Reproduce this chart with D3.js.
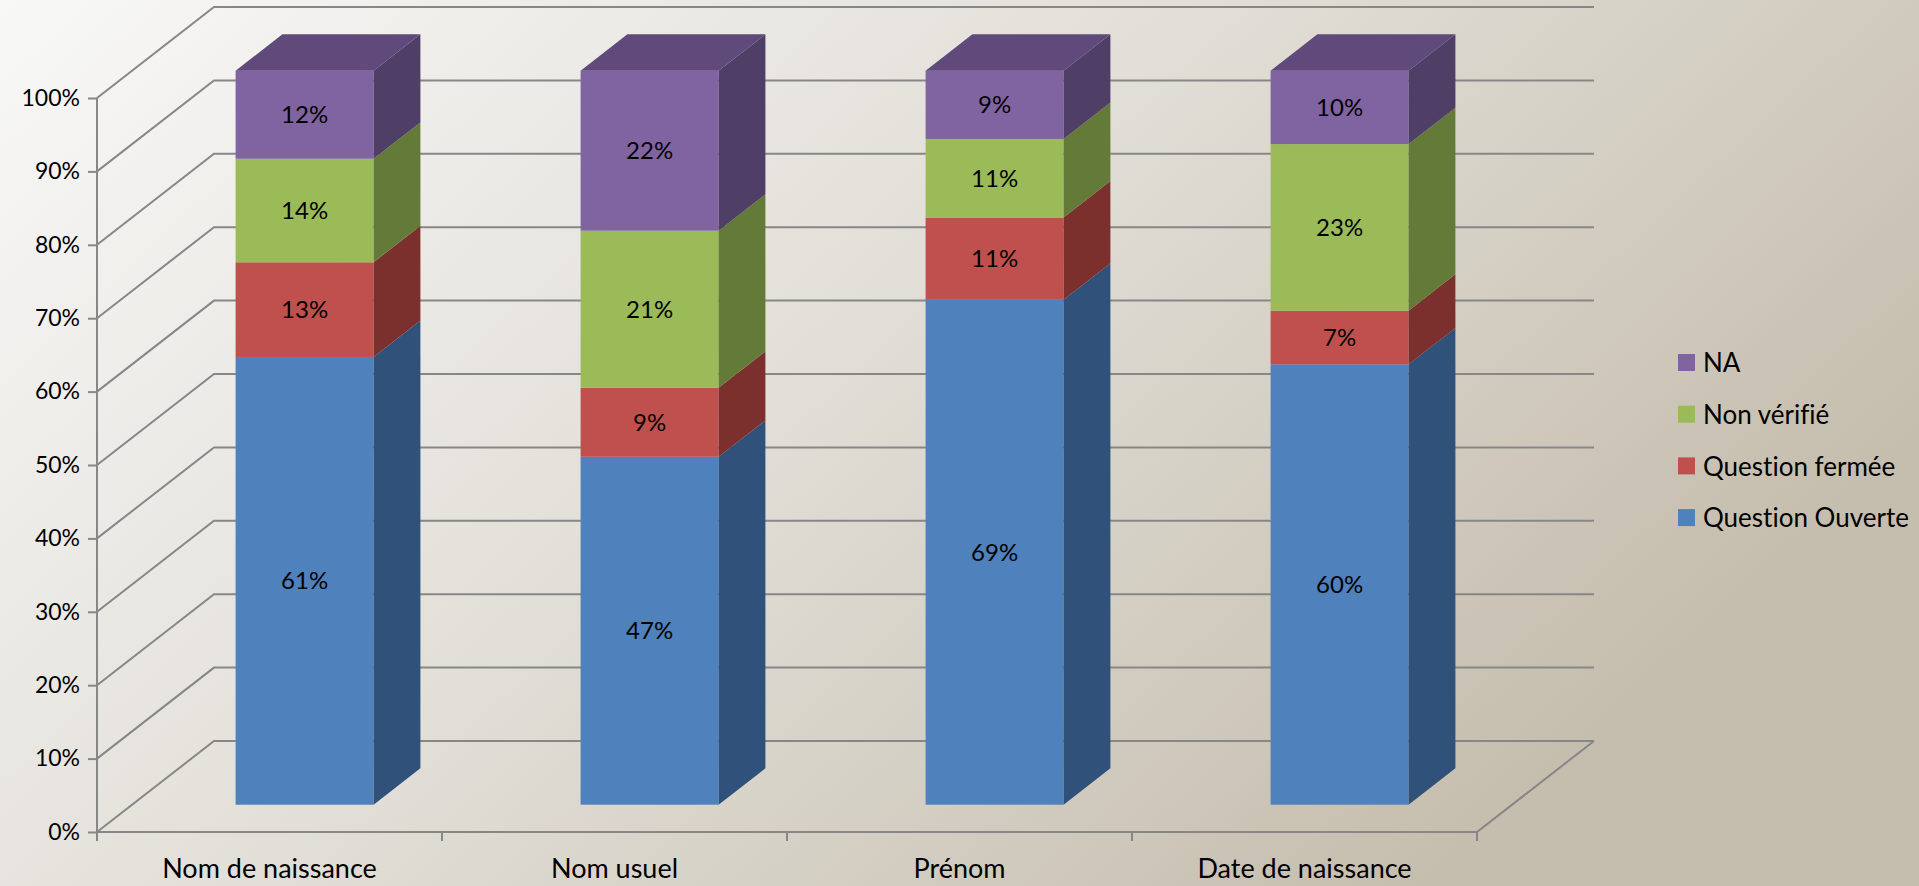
<!DOCTYPE html>
<html>
<head>
<meta charset="utf-8">
<script src="https://cdn.jsdelivr.net/npm/d3@7"></script>
<style>
  html, body { margin: 0; padding: 0; overflow: hidden; }
  text { font-family: Lato, "Open Sans", sans-serif; fill: #000; font-variant-ligatures: none; font-feature-settings: "liga" 0, "dlig" 0; }
</style>
</head>
<body>
<script>
'use strict';

// chart data
var categories = ["Nom de naissance", "Nom usuel", "Prénom", "Date de naissance"];
var seriesNames = ["Question Ouverte", "Question fermée", "Non vérifié", "NA"];
var questionOuverte = [61, 47.4, 68.8, 60];
var questionFermee  = [12.9, 9.4, 11.2, 7.3];
var nonVerifie      = [14.1, 21.4, 10.7, 22.7];
var na              = [12, 21.8, 9.3, 10];
var yTicks = [0, 10, 20, 30, 40, 50, 60, 70, 80, 90, 100];

var fronts = ["#4F81BD", "#C0504D", "#9BBB59", "#8064A2"];
var sides  = ["#30527A", "#7B302E", "#637A38", "#4F3E66"];
var tops   = ["#3B6497", "#963C3A", "#7A9446", "#5F4A7B"];

var width = 1919, height = 886;
var depthX = 117, depthY = 91;          // full floor depth offset
var barD0 = 0.3, barD1 = 0.7;            // bar front / back as fraction of depth

var rows = categories.map(function(c, i) {
    return { cat: c, "Question Ouverte": questionOuverte[i], "Question fermée": questionFermee[i],
             "Non vérifié": nonVerifie[i], "NA": na[i] };
});
var stacked = d3.stack().keys(seriesNames)(rows);

var svg = d3.select("body").append("svg")
    .attr("width", width)
    .attr("height", height);

var grad = svg.append("defs").append("linearGradient")
    .attr("id", "bg").attr("x1", 0).attr("y1", 0).attr("x2", 1).attr("y2", 0.5);
grad.append("stop").attr("offset", 0).attr("stop-color", "#F8F8F7");
grad.append("stop").attr("offset", 0.5).attr("stop-color", "#E2DFD8");
grad.append("stop").attr("offset", 1).attr("stop-color", "#C5BDAD");
svg.append("rect").attr("width", width).attr("height", height).attr("fill", "url(#bg)");

var x = d3.scaleBand().domain(categories).range([97, 1477]).paddingInner(0.6).paddingOuter(0.3);
var y = d3.scaleLinear().domain([0, 100]).range([832, 98]);

function px(xx, t) { return xx + t * depthX; }
function py(yy, t) { return yy - t * depthY; }

// walls and gridlines
var grid = svg.append("g").attr("stroke", "#878787").attr("stroke-width", 2).attr("fill", "none");
yTicks.forEach(function(v) {
    grid.append("path").attr("d",
        "M" + 97 + "," + y(v) + "L" + px(97, 1) + "," + py(y(v), 1) + "L" + px(1477, 1) + "," + py(y(v), 1));
});
grid.append("path").attr("d", "M97," + y(0) + "L1477," + y(0) + "L" + px(1477, 1) + "," + py(y(0), 1));

// y axis
var yAxis = svg.append("g").attr("transform", "translate(97,0)")
    .call(d3.axisLeft(y).tickValues(yTicks).tickSize(9).tickPadding(8).tickFormat(function(d) { return d + "%"; }));
yAxis.select(".domain").attr("stroke", "#878787").attr("stroke-width", 2).attr("d", "M0," + y(100) + "V" + y(0));
yAxis.selectAll(".tick line").attr("stroke", "#878787").attr("stroke-width", 2);
yAxis.selectAll(".tick text").attr("font-size", 23).attr("font-family", "Lato, sans-serif").attr("fill", "#000");

// x axis ticks and labels
var step = x.step();
var xAxis = svg.append("g");
d3.range(categories.length + 1).forEach(function(i) {
    xAxis.append("line").attr("x1", 97 + i * step).attr("x2", 97 + i * step)
        .attr("y1", y(0)).attr("y2", y(0) + 9).attr("stroke", "#878787").attr("stroke-width", 2);
});
xAxis.selectAll("text").data(categories).enter().append("text")
    .attr("x", function(d) { return x(d) + x.bandwidth() / 2; })
    .attr("y", 878)
    .attr("text-anchor", "middle")
    .attr("font-size", 27)
    .text(function(d) { return d; });

// bars
var bars = svg.append("g");
stacked.forEach(function(layer, si) {
    layer.forEach(function(seg, ci) {
        var x0 = px(x(categories[ci]), barD0), x1 = x0 + x.bandwidth();
        var yb = py(y(seg[0]), barD0), yt = py(y(seg[1]), barD0);
        var dd = barD1 - barD0, ox = dd * depthX, oy = dd * depthY;
        var g = bars.append("g");
        g.append("rect").attr("x", x0).attr("y", yt).attr("width", x1 - x0).attr("height", yb - yt)
            .attr("fill", fronts[si]);
        g.append("path").attr("fill", sides[si])
            .attr("d", "M" + x1 + "," + yt + "L" + (x1 + ox) + "," + (yt - oy) + "L" + (x1 + ox) + "," + (yb - oy) + "L" + x1 + "," + yb + "Z");
        if (si === stacked.length - 1) {
            g.append("path").attr("fill", tops[si])
                .attr("d", "M" + x0 + "," + yt + "L" + (x0 + ox) + "," + (yt - oy) + "L" + (x1 + ox) + "," + (yt - oy) + "L" + x1 + "," + yt + "Z");
        }
        g.append("text")
            .attr("x", (x0 + x1) / 2)
            .attr("y", (yt + yb) / 2)
            .attr("dy", "0.36em")
            .attr("text-anchor", "middle")
            .attr("font-size", 24)
            .text(Math.round(seg[1] - seg[0]) + "%");
    });
});

// legend
var legend = svg.append("g").attr("transform", "translate(1678,354)");
seriesNames.slice().reverse().forEach(function(name, i) {
    var si = seriesNames.indexOf(name);
    var row = legend.append("g").attr("transform", "translate(0," + (i * 51.7) + ")");
    row.append("rect").attr("width", 17).attr("height", 17).attr("fill", fronts[si]);
    row.append("text").attr("x", 25).attr("y", 9).attr("dy", "0.36em").attr("font-size", 26).text(name);
});
</script>
</body>
</html>
